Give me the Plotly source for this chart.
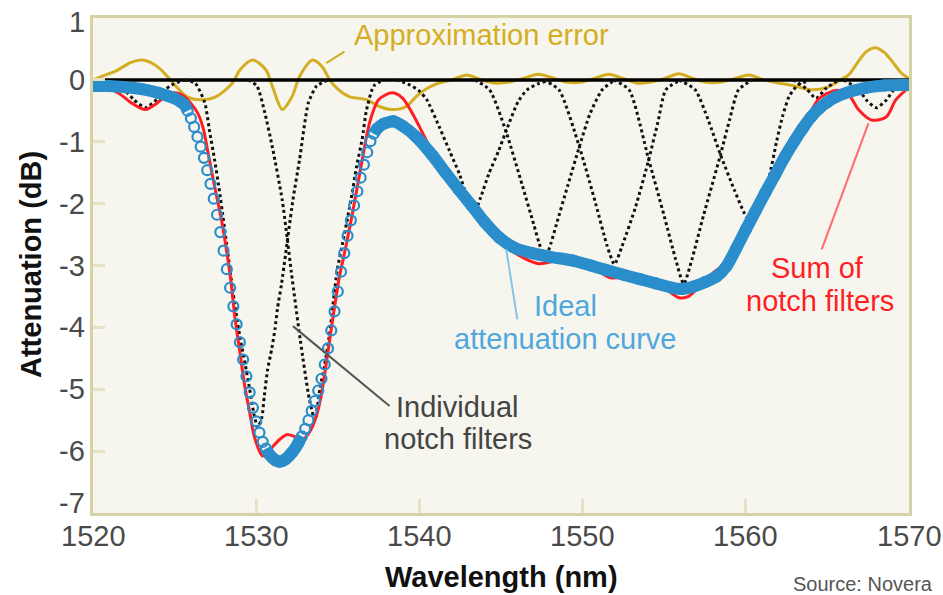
import numpy as np
import plotly.graph_objects as go

# ---------------- data ----------------
# Ideal attenuation curve (dB) vs wavelength (nm)
ideal_nm = [1520.0, 1521.0, 1522.0, 1523.0, 1524.0, 1524.6, 1525.0, 1525.4,
            1525.6, 1525.8, 1526.0, 1526.2, 1526.4, 1526.6, 1526.8, 1527.0, 1527.2, 1527.4,
            1527.6, 1527.8, 1528.0, 1528.2, 1528.4, 1528.6, 1528.8, 1529.0, 1529.2, 1529.4,
            1529.6, 1529.8, 1530.0, 1530.2, 1530.4, 1530.6, 1530.8, 1531.0, 1531.2, 1531.4,
            1531.6, 1531.8, 1532.0, 1532.2, 1532.4, 1532.6, 1532.8, 1533.0, 1533.2, 1533.4,
            1533.6, 1533.8, 1534.0, 1534.2, 1534.4, 1534.6, 1534.8, 1535.0, 1535.2, 1535.4,
            1535.6, 1535.8, 1536.0, 1536.2, 1536.4, 1536.6, 1536.8, 1537.0, 1537.2, 1537.4,
            1537.8, 1538.4, 1539.0, 1539.8, 1540.8, 1541.6, 1542.4, 1543.2, 1544.0, 1544.9,
            1545.8, 1546.9, 1548.0, 1549.4, 1550.5, 1551.4, 1552.5, 1553.5, 1554.5, 1555.5,
            1556.1, 1556.8, 1557.5, 1558.2, 1558.8, 1559.4, 1560.0, 1560.6, 1561.2, 1561.8,
            1562.4, 1563.0, 1563.5, 1564.0, 1564.5, 1565.0, 1565.5, 1566.5, 1567.5, 1568.5,
            1570.0]
ideal_db = [-0.10, -0.10, -0.12, -0.15, -0.21, -0.26, -0.30, -0.36,
            -0.40, -0.50, -0.62, -0.76, -0.92, -1.08, -1.26, -1.46, -1.68, -1.92,
            -2.18, -2.46, -2.76, -3.06, -3.36, -3.66, -3.95, -4.24, -4.52, -4.79,
            -5.05, -5.30, -5.52, -5.70, -5.85, -5.96, -6.05, -6.11, -6.15, -6.17,
            -6.16, -6.13, -6.08, -6.02, -5.95, -5.86, -5.76, -5.64, -5.50, -5.35,
            -5.19, -5.02, -4.83, -4.60, -4.34, -4.05, -3.74, -3.42, -3.10, -2.80,
            -2.52, -2.27, -2.03, -1.80, -1.58, -1.37, -1.17, -0.99, -0.87, -0.79,
            -0.71, -0.67, -0.75, -0.92, -1.22, -1.50, -1.77, -2.03, -2.30, -2.55,
            -2.71, -2.80, -2.86, -2.92, -3.00, -3.07, -3.15, -3.22, -3.29, -3.36,
            -3.38, -3.34, -3.27, -3.18, -3.02, -2.73, -2.42, -2.12, -1.82, -1.53,
            -1.24, -0.98, -0.78, -0.60, -0.46, -0.36, -0.28, -0.18, -0.12, -0.09,
            -0.08]

# Sum of notch filters
sum_nm = [1520.0, 1520.8, 1521.6, 1522.4, 1523.2, 1523.9, 1524.5, 1525.0, 1525.6, 1526.0,
          1526.4, 1526.75, 1527.05, 1527.45, 1527.9, 1528.2, 1528.45, 1528.7, 1529.0, 1529.3,
          1529.6, 1529.9, 1530.4, 1530.9, 1531.4, 1531.9, 1532.4, 1532.9, 1533.3, 1533.7,
          1533.95, 1534.2, 1534.45, 1534.7, 1535.1, 1535.5, 1535.9, 1536.2, 1536.5, 1536.8,
          1537.05, 1537.5, 1538.3, 1538.95, 1539.55, 1540.2, 1540.7, 1541.6, 1542.4, 1543.2,
          1544.0, 1545.0, 1546.0, 1547.3, 1548.5, 1549.8, 1550.8, 1551.7, 1552.8, 1553.9,
          1555.0, 1555.9, 1556.5, 1557.2, 1558.0, 1558.8, 1559.4, 1560.0, 1560.6, 1561.2,
          1561.8, 1562.4, 1563.0, 1563.5, 1564.0, 1564.5, 1565.5, 1566.3, 1566.9, 1567.7,
          1568.6, 1569.2, 1570.0]
sum_db = [-0.10, -0.13, -0.22, -0.38, -0.48, -0.38, -0.25, -0.21, -0.27, -0.38,
          -0.53, -0.78, -1.18, -1.72, -2.30, -2.79, -3.25, -3.85, -4.40, -4.95,
          -5.37, -5.78, -6.08, -5.96, -5.82, -5.73, -5.77, -5.80, -5.68, -5.42,
          -5.15, -4.75, -4.30, -3.85, -3.18, -2.69, -2.15, -1.72, -1.29, -0.86,
          -0.60, -0.32, -0.21, -0.29, -0.53, -0.86, -1.12, -1.48, -1.80, -2.06,
          -2.32, -2.62, -2.82, -2.97, -2.92, -2.93, -3.06, -3.20, -3.18, -3.20,
          -3.36, -3.52, -3.50, -3.32, -3.12, -2.95, -2.70, -2.40, -2.09, -1.77,
          -1.45, -1.13, -0.85, -0.66, -0.50, -0.30, -0.17, -0.24, -0.48, -0.65,
          -0.60, -0.32, -0.12]

# Approximation error
error_nm = [1520.0, 1520.45, 1521.45, 1522.3, 1523.05, 1523.8, 1524.3, 1524.9, 1525.75, 1526.55,
            1527.55, 1528.55, 1529.0, 1529.8, 1530.6, 1531.0, 1531.6, 1532.2, 1532.65, 1533.45,
            1534.05, 1534.5, 1535.0, 1535.7, 1536.75, 1537.55, 1538.35, 1539.2, 1539.8, 1540.45,
            1541.2, 1542.0, 1542.9, 1543.8, 1544.6, 1545.4, 1546.3, 1547.3, 1548.3, 1549.1,
            1549.8, 1550.7, 1551.6, 1552.5, 1553.3, 1554.1, 1555.0, 1555.9, 1556.8, 1557.6,
            1558.4, 1559.3, 1560.2, 1561.1, 1562.0, 1563.0, 1564.0, 1565.0, 1565.8, 1566.3,
            1566.9, 1567.4, 1567.95, 1568.5, 1568.9, 1569.5, 1570.0]
error_db = [0.0, 0.05, 0.15, 0.28, 0.32, 0.24, 0.13, -0.05, -0.27, -0.32,
            -0.27, -0.05, 0.16, 0.32, 0.16, -0.11, -0.48, -0.27, 0.05, 0.32,
            0.21, 0.0, -0.15, -0.27, -0.32, -0.43, -0.48, -0.43, -0.27, -0.14,
            -0.05, 0.0, 0.08, 0.0, -0.05, -0.04, 0.02, 0.09, 0.02, -0.04,
            -0.04, 0.02, 0.09, 0.02, -0.05, -0.04, 0.02, 0.10, 0.02, -0.04,
            -0.04, 0.02, 0.08, 0.0, -0.05, -0.10, -0.16, -0.12, 0.0, 0.08,
            0.30, 0.46, 0.52, 0.44, 0.32, 0.12, 0.02]

# Zero reference line
zero_nm = [1520.0, 1570.0]
zero_db = [0.0, 0.0]

# Individual notch filters
notch_0_nm = [1520.8, 1521.7, 1522.5, 1523.2, 1523.9, 1524.7, 1525.6]
notch_0_db = [0.0, -0.10, -0.32, -0.45, -0.32, -0.10, 0.0]
notch_a_nm = [1525.6, 1526.25, 1526.85, 1527.15, 1527.45, 1527.75, 1528.0, 1528.25, 1528.5,
              1528.75, 1529.0, 1529.3, 1529.6, 1529.9, 1530.1, 1530.35, 1530.5, 1530.7,
              1530.95, 1531.15, 1531.3, 1531.55, 1532.25, 1532.65, 1533.2, 1533.7, 1534.4]
notch_a_db = [0.0, -0.05, -0.37, -0.84, -1.29, -1.80, -2.28, -2.78, -3.28,
              -3.74, -4.15, -4.56, -5.00, -5.45, -5.62, -5.45, -5.10, -4.68,
              -4.35, -4.03, -3.70, -3.30, -1.94, -1.30, -0.37, -0.10, 0.0]
notch_b_nm = [1529.5, 1530.05, 1530.5, 1531.0, 1531.6, 1532.15, 1532.7, 1533.25, 1533.6, 1533.9,
              1534.2, 1534.5, 1534.95, 1535.4, 1535.8, 1536.15, 1536.5, 1536.75, 1537.2, 1537.8]
notch_b_db = [0.0, -0.10, -0.50, -1.10, -1.95, -3.10, -4.20, -5.15, -5.50, -5.00,
              -4.60, -4.10, -3.10, -2.50, -1.95, -1.40, -0.95, -0.50, -0.10, 0.0]
notch_c_nm = [1538.6, 1539.4, 1540.0, 1540.45, 1541.25, 1541.85, 1542.45, 1542.95, 1543.35,
              1543.75, 1544.25, 1544.85, 1545.35, 1546.05, 1546.6, 1547.3, 1548.2]
notch_c_db = [0.0, -0.08, -0.18, -0.32, -0.78, -1.15, -1.52, -1.92, -2.15,
              -1.90, -1.52, -1.15, -0.80, -0.35, -0.16, -0.06, 0.0]
notch_d_nm = [1543.4, 1544.3, 1545.3, 1546.3, 1547.0, 1547.35, 1547.7, 1548.05, 1548.4,
              1549.1, 1549.8, 1550.45, 1551.2, 1552.0]
notch_d_db = [0.0, -0.16, -0.83, -1.70, -2.33, -2.65, -2.88, -2.65, -2.33,
              -1.70, -1.08, -0.55, -0.16, 0.0]
notch_e_nm = [1547.6, 1548.55, 1549.8, 1550.8, 1551.5, 1551.95, 1552.4, 1553.25, 1554.05,
              1554.6, 1555.1, 1556.0]
notch_e_db = [0.0, -0.16, -1.08, -2.00, -2.68, -2.98, -2.70, -2.05, -1.29,
              -0.70, -0.16, 0.0]
notch_f_nm = [1551.9, 1552.85, 1554.05, 1555.0, 1555.7, 1556.2, 1556.7, 1557.4, 1558.45,
              1559.0, 1559.55, 1560.4]
notch_f_db = [0.0, -0.16, -1.29, -2.20, -2.90, -3.30, -2.90, -2.20, -1.21,
              -0.65, -0.16, 0.0]
notch_g_nm = [1555.9, 1556.9, 1557.7, 1558.45, 1559.3, 1559.9, 1560.3, 1560.75, 1561.4,
              1561.9, 1562.25, 1562.65, 1563.2, 1564.0]
notch_g_db = [0.0, -0.16, -0.65, -1.21, -1.78, -2.15, -2.32, -2.10, -1.60,
              -0.98, -0.59, -0.27, -0.08, 0.0]
notch_h_nm = [1562.9, 1563.7, 1564.3, 1564.9, 1565.7]
notch_h_db = [0.0, -0.14, -0.30, -0.14, 0.0]
notch_i_nm = [1566.0, 1566.9, 1567.4, 1568.0, 1568.6, 1569.1, 1570.0]
notch_i_db = [0.0, -0.15, -0.33, -0.45, -0.33, -0.15, 0.0]

x_ticks = [1520, 1530, 1540, 1550, 1560, 1570]
x_tick_text = ["1520", "1530", "1540", "1550", "1560", "1570"]
y_ticks = [1, 0, -1, -2, -3, -4, -5, -6, -7]
y_tick_text = ["1", "0", "-1", "-2", "-3", "-4", "-5", "-6", "-7"]

# ---------------- styling ----------------
FONT = "Liberation Sans, Arial, Helvetica, sans-serif"
BLUE = "#2a8dcc"
RED = "#ff1e24"
GOLD = "#d4ae22"
TICKFS = 29
TICKCOL = "#4a4a4a"
# small vertical nudges of the end labels, as in the reference
Y_LABEL_NUDGE = {1: -4, -7: 10}

notches = [(notch_0_nm, notch_0_db), (notch_a_nm, notch_a_db), (notch_b_nm, notch_b_db),
           (notch_c_nm, notch_c_db), (notch_d_nm, notch_d_db), (notch_e_nm, notch_e_db),
           (notch_f_nm, notch_f_db), (notch_g_nm, notch_g_db), (notch_h_nm, notch_h_db),
           (notch_i_nm, notch_i_db)]

fig = go.Figure()

fig.add_trace(go.Scatter(x=error_nm, y=error_db, mode="lines",
                         line=dict(color=GOLD, width=3, shape="spline", smoothing=0.8),
                         hoverinfo="skip", showlegend=False))
fig.add_trace(go.Scatter(x=zero_nm, y=zero_db, mode="lines",
                         line=dict(color="#000000", width=3.5),
                         hoverinfo="skip", showlegend=False))
for nm, db in notches:
    fig.add_trace(go.Scatter(x=nm, y=db, mode="lines",
                             line=dict(color="#111111", width=3, dash="dot",
                                       shape="spline", smoothing=0.6),
                             hoverinfo="skip", showlegend=False))
fig.add_trace(go.Scatter(x=sum_nm, y=sum_db, mode="lines",
                         line=dict(color=RED, width=3, shape="spline", smoothing=0.8),
                         hoverinfo="skip", showlegend=False))

# ideal curve: solid band where gentle, open circles where steep
ix = np.array(ideal_nm, dtype=float)
iy = np.array(ideal_db, dtype=float)
slope = np.abs(np.gradient(iy, ix))
band_y = [float(y) if s < 0.6 else None for y, s in zip(iy, slope)]
fig.add_trace(go.Scatter(x=ideal_nm, y=band_y, mode="lines", connectgaps=False,
                         line=dict(color=BLUE, width=12, shape="spline", smoothing=0.6),
                         hoverinfo="skip", showlegend=False))
fig.add_trace(go.Scatter(x=ideal_nm, y=ideal_db, mode="markers",
                         marker=dict(symbol="circle-open", size=10, color=BLUE,
                                     line=dict(width=2.2, color=BLUE)),
                         hoverinfo="skip", showlegend=False))

# pointer lines
shapes = [
    dict(type="line", xref="x", yref="y", x0=1535.41, y0=0.457, x1=1534.29, y1=0.27,
         line=dict(color=GOLD, width=2)),
    dict(type="line", xref="x", yref="y", x0=1545.32, y0=-2.74, x1=1546.0, y1=-3.87,
         line=dict(color="#86c3e8", width=2)),
    dict(type="line", xref="x", yref="y", x0=1564.65, y0=-2.74, x1=1567.52, y1=-0.70,
         line=dict(color="#ff6a6a", width=2)),
    dict(type="line", xref="x", yref="y", x0=1532.25, y0=-3.98, x1=1538.17, y1=-5.27,
         line=dict(color="#555555", width=2)),
]

def txt(x, y, s, color, size=29, xanchor="center", **kw):
    return dict(x=x, y=y, xref="x", yref="y", text=s, showarrow=False,
                xanchor=xanchor, yanchor="middle",
                font=dict(family=FONT, size=size, color=color), **kw)

annotations = [
    txt(1535.84, 0.726, "Approximation error", GOLD, xanchor="left"),
    txt(1548.96, -3.66, "Ideal", "#4ea7dd"),
    txt(1548.90, -4.19, "attenuation curve", "#4ea7dd"),
    txt(1564.40, -3.04, "Sum of", RED),
    txt(1564.56, -3.57, "notch filters", RED),
    txt(1542.34, -5.28, "Individual", "#444444"),
    txt(1542.34, -5.80, "notch filters", "#444444"),
    dict(x=0.5, y=-0.1293, xref="paper", yref="paper", text="<b>Wavelength (nm)</b>",
         showarrow=False, xanchor="center", yanchor="middle",
         font=dict(family=FONT, size=29, color="#111111")),
    dict(x=-0.076, y=0.503, xref="paper", yref="paper", text="<b>Attenuation (dB)</b>",
         showarrow=False, xanchor="center", yanchor="middle", textangle=-90,
         font=dict(family=FONT, size=29, color="#111111")),
    dict(x=1.0319, y=-0.1434, xref="paper", yref="paper", text="Source: Novera",
         showarrow=False, xanchor="right", yanchor="middle",
         font=dict(family=FONT, size=20, color="#555555")),
]

# tick labels drawn as annotations so they can sit exactly where the reference has them
for v, t in zip(y_ticks, y_tick_text):
    annotations.append(dict(x=0, y=v, xref="paper", yref="y", text=t, showarrow=False,
                            xanchor="right", yanchor="middle", xshift=-6,
                            yshift=Y_LABEL_NUDGE.get(v, 0),
                            font=dict(family=FONT, size=TICKFS, color=TICKCOL)))
for v, t in zip(x_ticks, x_tick_text):
    annotations.append(dict(x=v, y=0, xref="x", yref="paper", text=t, showarrow=False,
                            xanchor="center", yanchor="middle", yshift=-23,
                            font=dict(family=FONT, size=TICKFS, color=TICKCOL)))

fig.update_layout(
    width=943, height=595,
    margin=dict(l=93, r=34, t=18, b=82),
    paper_bgcolor="#ffffff", plot_bgcolor="#f7f6ee",
    showlegend=False,
    font=dict(family=FONT),
    shapes=shapes,
    annotations=annotations,
    xaxis=dict(range=[1520, 1570], tickvals=x_ticks, ticks="inside", ticklen=14,
               tickwidth=3, tickcolor="#e6e2c6", showline=True, linecolor="#d6d2a6",
               linewidth=3, mirror=True, showgrid=False, zeroline=False,
               showticklabels=False),
    yaxis=dict(range=[-7, 1], tickvals=y_ticks, ticks="inside",
               ticklen=12, tickwidth=3, tickcolor="#e6e2c6", showline=True,
               linecolor="#d6d2a6", linewidth=3, mirror=True, showgrid=False,
               zeroline=False, showticklabels=False),
)

fig.write_html("out.html")
